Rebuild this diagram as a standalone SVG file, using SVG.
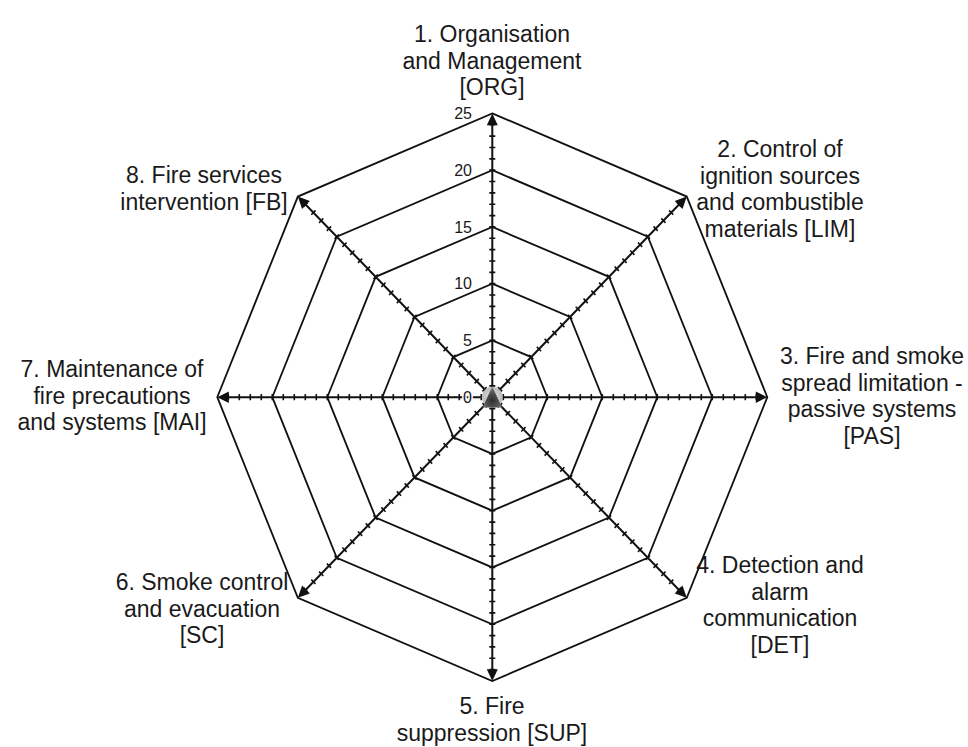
<svg xmlns="http://www.w3.org/2000/svg" width="968" height="747" viewBox="0 0 968 747">
  <style>
    .lbl { font-family: "Liberation Sans", Arial, sans-serif; font-size: 23px; fill: #1a1a1a; text-anchor: middle; }
    .num { font-family: "Liberation Sans", Arial, sans-serif; font-size: 16px; fill: #1a1a1a; text-anchor: end; stroke: #fff; stroke-width: 3px; paint-order: stroke; stroke-linejoin: round; }
    .ring { fill: none; stroke: #111; stroke-width: 1.8; stroke-linejoin: miter; }
    .axis { stroke: #111; stroke-width: 2; fill: none; marker-end: url(#tip); }
    .tick { stroke: #111; stroke-width: 6; stroke-dasharray: 1.6 9.4; stroke-dashoffset: 0.8; fill: none; }
  </style>
  <defs>
    <marker id="tip" markerUnits="userSpaceOnUse" orient="auto" viewBox="-9 -6 12 12" refX="0" refY="0" markerWidth="12" markerHeight="12" overflow="visible">
      <path d="M3,0 L-8.5,-5.5 L-8.5,5.5 Z" fill="#111"/>
    </marker>
    <radialGradient id="cone" cx="0.5" cy="0.65" r="0.6">
      <stop offset="0" stop-color="#2e2e2e"/>
      <stop offset="0.7" stop-color="#5a5a5a"/>
      <stop offset="1" stop-color="#8a8a8a"/>
    </radialGradient>
    <radialGradient id="disc" cx="0.5" cy="0.5" r="0.5">
      <stop offset="0" stop-color="#e4e4e4"/>
      <stop offset="1" stop-color="#b8b8b8"/>
    </radialGradient>
  </defs>

  <rect width="968" height="747" fill="#fff"/>

  <!-- radar grid, drawn about the centre with a slight vertical stretch -->
  <g id="grid" transform="translate(492.3,397.2) scale(1,1.032)">
    <g id="rings">
      <polygon class="ring" points="0,-55 38.89,-38.89 55,0 38.89,38.89 0,55 -38.89,38.89 -55,0 -38.89,-38.89"/>
      <polygon class="ring" points="0,-110 77.78,-77.78 110,0 77.78,77.78 0,110 -77.78,77.78 -110,0 -77.78,-77.78"/>
      <polygon class="ring" points="0,-165 116.67,-116.67 165,0 116.67,116.67 0,165 -116.67,116.67 -165,0 -116.67,-116.67"/>
      <polygon class="ring" points="0,-220 155.56,-155.56 220,0 155.56,155.56 0,220 -155.56,155.56 -220,0 -155.56,-155.56"/>
      <polygon class="ring" points="0,-275 194.45,-194.45 275,0 194.45,194.45 0,275 -194.45,194.45 -275,0 -194.45,-194.45"/>
    </g>
    <g id="connectors">
      <!-- tick marks: one every unit along each axis -->
      <line class="tick" x1="0" y1="0" x2="0" y2="-269.5"/>
      <line class="tick" x1="0" y1="0" x2="190.57" y2="-190.57"/>
      <line class="tick" x1="0" y1="0" x2="269.5" y2="0"/>
      <line class="tick" x1="0" y1="0" x2="190.57" y2="190.57"/>
      <line class="tick" x1="0" y1="0" x2="0" y2="269.5"/>
      <line class="tick" x1="0" y1="0" x2="-190.57" y2="190.57"/>
      <line class="tick" x1="0" y1="0" x2="-269.5" y2="0"/>
      <line class="tick" x1="0" y1="0" x2="-190.57" y2="-190.57"/>
      <!-- axes with arrowheads at the outer vertex -->
      <line class="axis" x1="0" y1="0" x2="0" y2="-272"/>
      <line class="axis" x1="0" y1="0" x2="192.33" y2="-192.33"/>
      <line class="axis" x1="0" y1="0" x2="272" y2="0"/>
      <line class="axis" x1="0" y1="0" x2="192.33" y2="192.33"/>
      <line class="axis" x1="0" y1="0" x2="0" y2="272"/>
      <line class="axis" x1="0" y1="0" x2="-192.33" y2="192.33"/>
      <line class="axis" x1="0" y1="0" x2="-272" y2="0"/>
      <line class="axis" x1="0" y1="0" x2="-192.33" y2="-192.33"/>
    </g>
  </g>

  <!-- centre marker -->
  <g id="origin">
    <circle cx="492.3" cy="397.2" r="10.5" fill="url(#disc)"/>
    <polygon points="492.3,386.5 482.6,407.5 502,407.5" fill="url(#cone)"/>
  </g>

  <!-- scale values -->
  <g id="scale">
    <text class="num" x="472" y="402.7">0</text>
    <text class="num" x="472" y="346">5</text>
    <text class="num" x="472" y="289.2">10</text>
    <text class="num" x="472" y="232.5">15</text>
    <text class="num" x="472" y="175.7">20</text>
    <text class="num" x="472" y="119">25</text>
  </g>

  <g id="org">
    <text class="lbl" x="492" y="42">1. Organisation</text>
    <text class="lbl" x="492" y="68.5">and Management</text>
    <text class="lbl" x="492" y="95">[ORG]</text>
  </g>
  <g id="lim">
    <text class="lbl" x="780" y="157">2. Control of</text>
    <text class="lbl" x="780" y="183.5">ignition sources</text>
    <text class="lbl" x="780" y="210">and combustible</text>
    <text class="lbl" x="780" y="236.5">materials [LIM]</text>
  </g>
  <g id="pas">
    <text class="lbl" x="872" y="364">3. Fire and smoke</text>
    <text class="lbl" x="872" y="390.5">spread limitation -</text>
    <text class="lbl" x="872" y="417">passive systems</text>
    <text class="lbl" x="872" y="443.5">[PAS]</text>
  </g>
  <g id="det">
    <text class="lbl" x="780" y="573">4. Detection and</text>
    <text class="lbl" x="780" y="599.5">alarm</text>
    <text class="lbl" x="780" y="626">communication</text>
    <text class="lbl" x="780" y="652.5">[DET]</text>
  </g>
  <g id="sup">
    <text class="lbl" x="492" y="714">5. Fire</text>
    <text class="lbl" x="492" y="740.5">suppression [SUP]</text>
  </g>
  <g id="sc">
    <text class="lbl" x="202" y="590">6. Smoke control</text>
    <text class="lbl" x="202" y="616.5">and evacuation</text>
    <text class="lbl" x="202" y="643">[SC]</text>
  </g>
  <g id="mai">
    <text class="lbl" x="112" y="377">7. Maintenance of</text>
    <text class="lbl" x="112" y="403.5">fire precautions</text>
    <text class="lbl" x="112" y="430">and systems [MAI]</text>
  </g>
  <g id="fb">
    <text class="lbl" x="204" y="183">8. Fire services</text>
    <text class="lbl" x="204" y="209.5">intervention [FB]</text>
  </g>
</svg>
